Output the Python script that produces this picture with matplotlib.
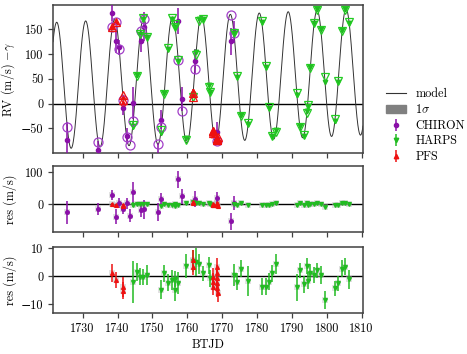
import numpy as np
import matplotlib
matplotlib.use("Agg")
import matplotlib.pyplot as plt
from matplotlib.patches import Patch
from matplotlib.lines import Line2D

plt.rcParams['font.family'] = ['cmr10', 'DejaVu Serif']
plt.rcParams['mathtext.fontset'] = 'cm'
plt.rcParams['axes.formatter.use_mathtext'] = False
plt.rcParams['axes.unicode_minus'] = True
plt.rcParams['font.size'] = 8.8

## model parameters (period, peak time, semi-amplitude, offset, trend)
period = 8.298
t_peak = 1722.56
K = 128.0
offset = 49.8
slope = 0.32
t_ref = 1765.0

def model(t):
    t = np.asarray(t, dtype=float)
    return K*np.cos(2*np.pi*(t - t_peak)/period) + offset + slope*(t - t_ref)

## CHIRON
chiron_t = [1725.6, 1734.5, 1738.5, 1739.5, 1740.5, 1741.6, 1742.6, 1743.5, 1744.5, 1746.6,
            1747.6, 1751.6, 1752.6, 1757.4, 1758.5, 1762.2, 1768.4, 1772.5, 1773.4]
chiron_res = [-26, -15, 29, -40, 4, -16, 2, -36, 37, -19, -16, -25, 15, 78, 24, 15, 19, -54, 2]
chiron_err = [37, 18, 17, 23, 15, 15, 17, 21, 32, 22, 30, 27, 19, 26, 25, 25, 20, 27, 22]

## HARPS
harps_t = [1744.4, 1745.5, 1746.5, 1747.4, 1748.5, 1752.5, 1753.4, 1754.4, 1755.5, 1756.4,
           1756.5, 1757.4, 1759.5, 1761.6, 1762.5, 1763.5, 1764.5, 1766.3, 1766.4, 1773.4,
           1774.4, 1775.3, 1777.5, 1781.3, 1782.5, 1783.4, 1784.4, 1785.4, 1791.4, 1792.3,
           1793.5, 1794.3, 1794.5, 1795.3, 1796.4, 1797.3, 1798.3, 1799.4, 1802.4, 1803.3,
           1804.4, 1805.3, 1806.4]
harps_res = [-2, 1.5, -0.2, -0.3, 0.5, -4.8, 1, -2.3, -1.3, -5,
             -1, -2.6, 3.6, 5.5, 5, 4.3, 1, 3.9, -0.8, 0.4,
             -2, 2.7, -1.7, -3.8, -3.8, -2, 1, 4.3, -4, 2.1,
             -2.9, 3.6, -1.7, 1.2, 0.4, 2.1, 0.4, -8.6, -4.4, -2.6,
             2.7, 3.3, -1.2]
harps_err = [7.5, 3.3, 3, 3, 3.6, 3.3, 3, 3, 3.6, 4,
             3, 3.9, 4.2, 4, 5, 3.6, 2.7, 3, 3, 4,
             3, 3, 5.4, 3, 3, 3, 3, 3.6, 4.8, 2.7,
             3, 3, 3, 3, 2.7, 2.7, 3.3, 3.3, 2.7, 2.7,
             3, 3, 3.3]

## PFS
pfs_t = [1738.5, 1739.5, 1741.5, 1741.6, 1761.6, 1761.7, 1767.4, 1767.4, 1767.5,
         1768.5, 1768.5, 1768.6, 1768.6, 1768.6, 1768.7]
pfs_res = [1.2, -1.4, -3.8, -5.2, 5.7, 3.3, -0.2, -2.0, -3.8, 3.3, 1.0, -0.8, -2.6, -4.4, -6.2]
pfs_err = [3.3, 2.7, 3.6, 3, 3.6, 3, 3, 3, 3, 3, 3, 3, 3, 3, 3]

xticks = [1730, 1740, 1750, 1760, 1770, 1780, 1790, 1800, 1810]

insts = [
    ('CHIRON', chiron_t, chiron_res, chiron_err, '#8a0fa8', '#a23fc8', 'o', 3.0, 6.5),
    ('HARPS', harps_t, harps_res, harps_err, '#22bb22', '#22cc22', 'v', 3.2, 6.0),
    ('PFS', pfs_t, pfs_res, pfs_err, '#ee1111', '#ee1111', '^', 3.2, 6.0),
]

xlim = (1721.5, 1810.4)

fig = plt.figure(figsize=(4.67, 3.54), dpi=100)
ax1 = fig.add_axes([0.1135, 0.5678, 0.6638, 0.418])
ax2 = fig.add_axes([0.1135, 0.3446, 0.6638, 0.1864])
ax3 = fig.add_axes([0.1135, 0.1158, 0.6638, 0.1864])

tgrid = np.linspace(xlim[0], xlim[1], 2000)
ax1.plot(tgrid, model(tgrid), color='0.2', lw=0.7, zorder=2)
ax1.axhline(0, color='k', lw=1.0, zorder=1)

handles = []
for name, t, res, err, col, ocol, mk, ms, oms in insts:
    t = np.array(t)
    res = np.array(res, dtype=float)
    err = np.array(err, dtype=float)
    m = model(t)
    eb = ax1.errorbar(t, m + res, yerr=err, fmt=mk, color=col, ms=ms, elinewidth=1.1,
                      capsize=0, zorder=3)
    ax1.plot(t, m, mk, mfc='none', mec=ocol, ms=oms, mew=0.9, zorder=4)
    handles.append(eb)

    ax2.scatter(t, res, marker='s', s=14, color='0.75', alpha=0.45, lw=0, zorder=2)
    ax2.errorbar(t, res, yerr=err, fmt=mk, color=col, ms=ms*0.85, elinewidth=1.1,
                 capsize=0, zorder=3)
    if name != 'CHIRON':
        ax3.scatter(t, res, marker='s', s=14, color='0.75', alpha=0.45, lw=0, zorder=2)
        ax3.errorbar(t, res, yerr=err, fmt=mk, color=col, ms=ms*0.85, elinewidth=1.1,
                     capsize=0, zorder=3)

for ax in (ax2, ax3):
    ax.axhline(0, color='k', lw=1.0, zorder=1)

ax1.set_ylim(-100, 199)
ax1.set_yticks([-50, 0, 50, 100, 150])
ax2.set_ylim(-88, 120)
ax2.set_yticks([0, 100])
ax3.set_ylim(-13.2, 10.4)
ax3.set_yticks([-10, 0, 10])

for ax in (ax1, ax2, ax3):
    ax.set_xlim(*xlim)
    ax.set_xticks(xticks)
    ax.tick_params(direction='out', length=3.5, width=0.9, color='0.25')
    for sp in ax.spines.values():
        sp.set_color('0.25')
        sp.set_linewidth(1.1)
    ax.yaxis.set_label_coords(-0.117, 0.5)
ax1.set_xticklabels([])
ax2.set_xticklabels([])

ax1.set_ylabel(r'RV (m/s) $-\gamma$')
ax2.set_ylabel('res (m/s)')
ax3.set_ylabel('res (m/s)')
ax3.set_xlabel('BTJD', labelpad=3)

leg_handles = [Line2D([], [], color='0.2', lw=0.8), Patch(color='0.5')] + handles
leg_labels = ['model', r'$1\sigma$', 'CHIRON', 'HARPS', 'PFS']
fig.legend(leg_handles, leg_labels, loc='upper left', bbox_to_anchor=(0.802, 0.783),
           frameon=False, handlelength=1.7, labelspacing=0.28, handletextpad=0.75)

plt.savefig('out.png', dpi=100)
plt.close()
